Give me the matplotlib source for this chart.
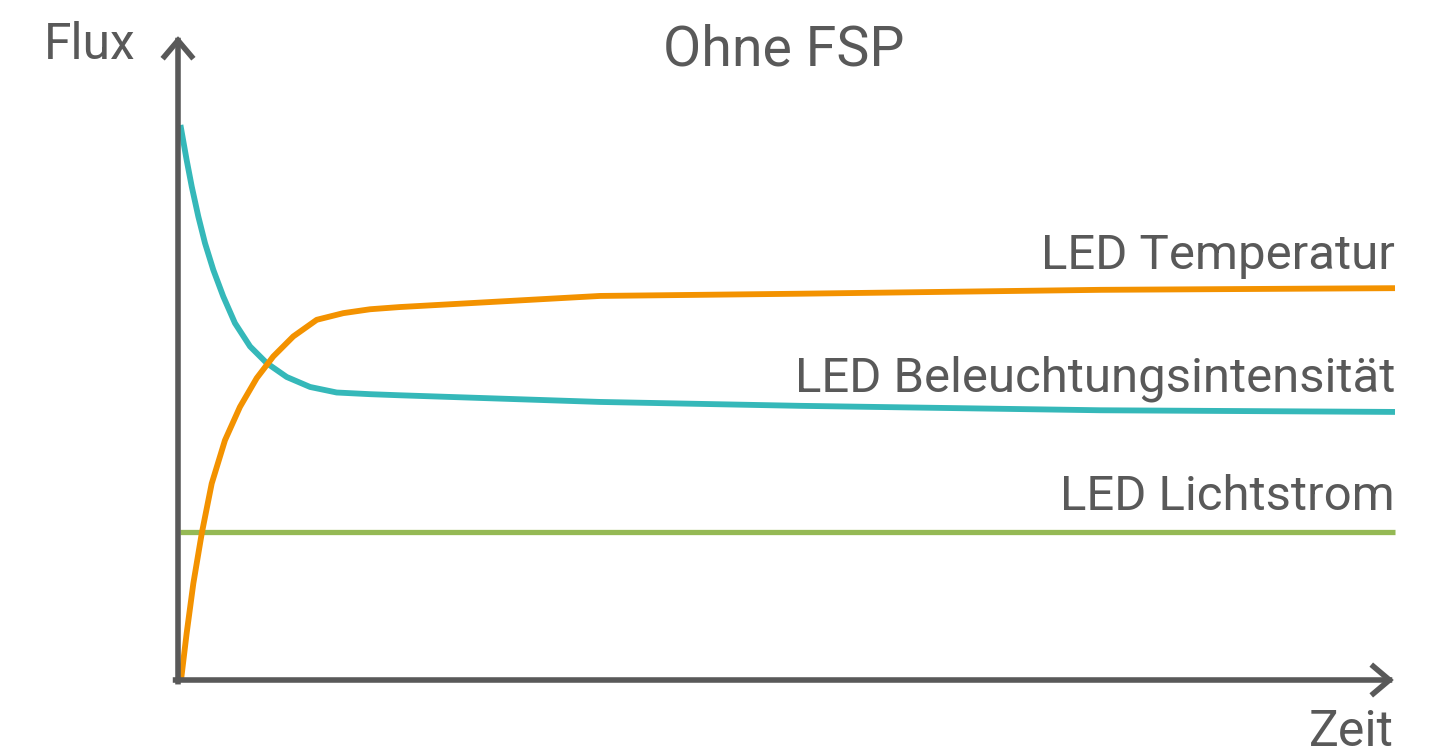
import numpy as np
import matplotlib.pyplot as plt

plt.rcParams['font.family'] = ['Roboto', 'DejaVu Sans']

# Zeit (0..100) und Flux (relative Einheiten)
zeit_int = [0.2, 0.71, 1.13, 1.67, 2.22, 2.90, 3.72, 4.68, 5.92, 7.29, 8.93,
            10.85, 13.04, 15.78, 18.24, 34.68, 51.1, 75.8, 100]
flux_int = [100, 93.7, 88.9, 83.5, 78.7, 73.9, 69.1, 64.3, 60.1, 57.1, 54.6,
            52.8, 51.8, 51.5, 51.3, 50.1, 49.4, 48.6, 48.3]

zeit_temp = [0.25, 0.71, 1.26, 1.95, 2.77, 3.86, 5.09, 6.47, 7.83, 9.47,
             11.40, 13.58, 15.78, 18.24, 34.68, 51.1, 75.8, 100]
flux_temp = [0, 8.4, 17.4, 26.4, 35.4, 43.2, 49.2, 54.4, 58.3, 61.9,
             64.9, 66.1, 66.8, 67.2, 69.2, 69.6, 70.3, 70.6]

zeit_licht = [0.15, 100]
flux_licht = [26.6, 26.6]

labels = ['LED Temperatur', 'LED Beleuchtungsintensität', 'LED Lichtstrom']

grau = '#595959'
teal = '#35b8b9'
orange = '#f39200'
gruen = '#95b954'

fig = plt.figure(figsize=(14.5, 7.53), dpi=100)
ax = fig.add_axes([178/1450, 73/753, 1217/1450, 555/753])
ax.set_xlim(0, 100)
ax.set_ylim(0, 100)
ax.axis('off')

lw = 4.2
ax.plot(zeit_licht, flux_licht, color=gruen, lw=3.8, clip_on=False, solid_capstyle='butt')
ax.plot(zeit_int, flux_int, color=teal, lw=lw, clip_on=False,
        solid_capstyle='butt', solid_joinstyle='round')
ax.plot(zeit_temp, flux_temp, color=orange, lw=lw, clip_on=False,
        solid_capstyle='butt', solid_joinstyle='round')

# Achsen mit Pfeilspitzen
pfeil = dict(arrowstyle='->, head_length=0.58, head_width=0.49', lw=4.0,
             color=grau, mutation_scale=20, shrinkA=0, shrinkB=0,
             capstyle='projecting', joinstyle='miter')
ax.annotate('', xy=(0, 116), xytext=(0, -0.3), arrowprops=pfeil, annotation_clip=False)
ax.annotate('', xy=(99.9, 0), xytext=(-0.2, 0), arrowprops=pfeil, annotation_clip=False)

fs = 35.4
ax.text(100, 74.0, labels[0], ha='right', va='baseline', fontsize=fs, color=grau)
ax.text(100, 52.0, labels[1], ha='right', va='baseline', fontsize=fs, color=grau)
ax.text(100, 30.6, labels[2], ha='right', va='baseline', fontsize=fs, color=grau)

fig.text(784/1450, 1 - 65/753, 'Ohne FSP', ha='center', va='baseline', fontsize=40, color=grau)
fig.text(136/1450, 1 - 59/753, 'Flux', ha='right', va='baseline', fontsize=35.7, color=grau)
fig.text(1394/1450, 1 - 746/753, 'Zeit', ha='right', va='baseline', fontsize=36, color=grau)

fig.savefig('out.png', dpi=100)
